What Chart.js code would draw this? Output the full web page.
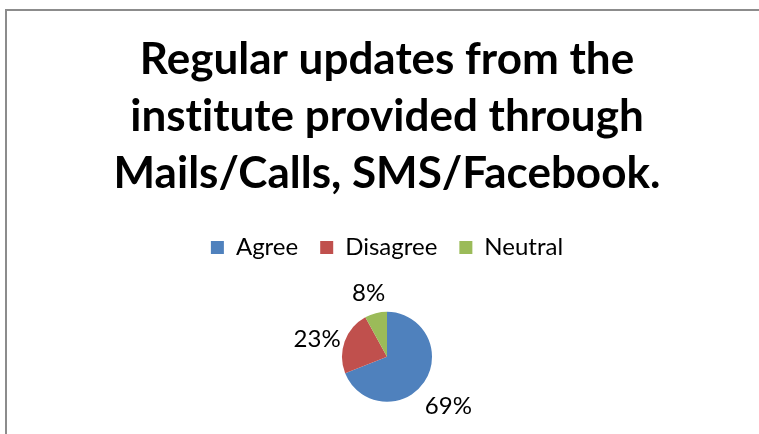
<!DOCTYPE html>
<html>
<head>
<meta charset="utf-8">
<script src="https://cdn.jsdelivr.net/npm/chart.js@4"></script>
<style>
  html, body { margin: 0; padding: 0; background: #fff; }
  #wrap { position: relative; width: 759px; height: 434px; overflow: hidden; }
  #frame { position: absolute; left: 5px; top: 9px; width: 800px; height: 500px;
           border-left: 2px solid #8c8c8c; border-top: 2px solid #8c8c8c; }
  canvas { position: absolute; left: 0; top: 0; }
</style>
</head>
<body>
<div id="wrap">
  <div id="frame"></div>
  <canvas id="myChart" width="759" height="434"></canvas>
</div>
<script>
// data
const titleLines = ['Regular updates from the', 'institute provided through', 'Mails/Calls, SMS/Facebook.'];
const categories = ['Agree', 'Disagree', 'Neutral'];
const percentages = [69, 23, 8];
const sliceColors = ['#4F81BD', '#C0504D', '#9BBB59'];

const fontFamily = 'Lato, "Open Sans", sans-serif';

// no "ti" ligatures, push pie a bit lower under the legend
const tweaks = {
    id: 'tweaks',
    beforeDraw(chart) {
        chart.ctx.textRendering = 'optimizeSpeed';
    },
    afterLayout(chart) {
        chart.chartArea.top += 10;
        chart.chartArea.height -= 10;
    }
};

// percent labels just outside each slice
const outsideLabels = {
    id: 'outsideLabels',
    afterDatasetsDraw(chart) {
        const ctx = chart.ctx;
        const meta = chart.getDatasetMeta(0);
        ctx.save();
        ctx.font = '24px ' + fontFamily;
        ctx.fillStyle = '#000';
        ctx.textAlign = 'center';
        ctx.textBaseline = 'middle';
        meta.data.forEach((arc, i) => {
            const p = arc.getProps(['x', 'y', 'startAngle', 'endAngle', 'outerRadius'], true);
            const mid = (p.startAngle + p.endAngle) / 2;
            const r = p.outerRadius * 1.65;
            ctx.fillText(percentages[i] + '%', p.x + Math.cos(mid) * r, p.y + Math.sin(mid) * r + 8);
        });
        ctx.restore();
    }
};

const ctx = document.getElementById('myChart').getContext('2d');
new Chart(ctx, {
    type: 'pie',
    data: {
        labels: categories,
        datasets: [{
            data: percentages,
            backgroundColor: sliceColors,
            borderWidth: 0,
            radius: 45
        }]
    },
    options: {
        responsive: false,
        animation: false,
        layout: { padding: { left: 15, right: 0, top: 0, bottom: 0 } },
        plugins: {
            title: {
                display: true,
                text: titleLines,
                color: '#000',
                font: { family: fontFamily, size: 44, weight: 'bold', lineHeight: 1.3 },
                padding: { top: 31, bottom: 11 }
            },
            legend: {
                position: 'top',
                labels: {
                    color: '#000',
                    boxWidth: 13,
                    boxHeight: 13,
                    padding: 22,
                    font: { family: fontFamily, size: 24 }
                }
            },
            tooltip: { enabled: false }
        }
    },
    plugins: [tweaks, outsideLabels]
});
</script>
</body>
</html>
